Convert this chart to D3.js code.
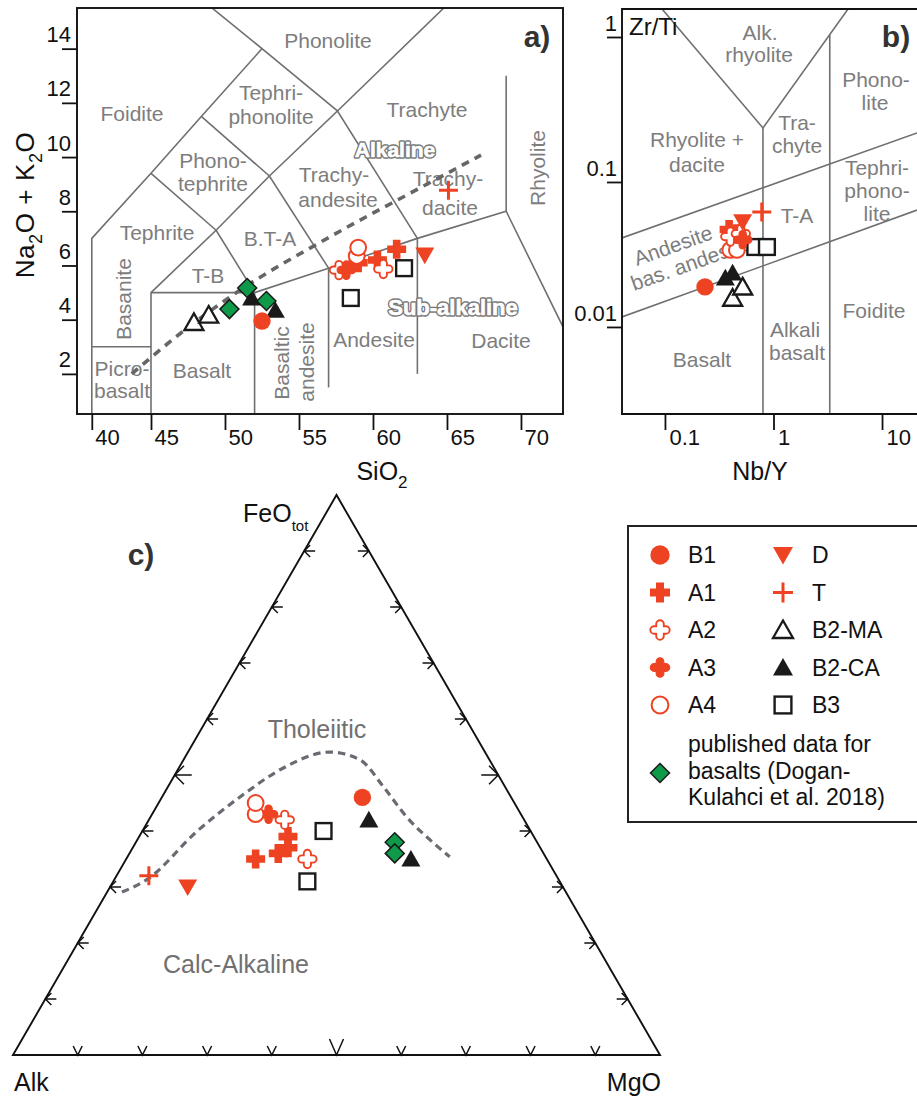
<!DOCTYPE html>
<html><head><meta charset="utf-8">
<script src="https://cdn.jsdelivr.net/npm/d3@7"></script>
<style>
body{margin:0;background:#fff}
svg{display:block}
text{font-family:"Liberation Sans",Arial,Helvetica,sans-serif}
</style></head>
<body><svg id="chart" width="917" height="1096"></svg>
<script>
// ================= DATA =================
// Panel a: TAS (SiO2, Na2O+K2O)
const tasXTicks = [41,45,50,55,60,65,70];          // first tick sits on the 41 boundary in the source
const tasXTickLabels = ["40","45","50","55","60","65","70"];
const tasYTicks = [2,4,6,8,10,12,14];
const tasB1   = [[52.5,3.95]];
const tasA1   = [[59.0,6.1],[60.3,6.2],[61.6,6.6]];
const tasA2   = [[57.7,5.83],[60.7,5.87]];
const tasA3   = [[58.2,5.83]];
const tasA4   = [[58.9,6.35],[59.0,6.66]];
const tasD    = [[63.5,6.38]];
const tasT    = [[65.1,8.78]];
const tasB2MA = [[47.9,3.9],[48.9,4.17]];
const tasB2CA = [[51.8,4.8],[53.4,4.35]];
const tasB3   = [[58.5,4.8],[62.1,5.9]];
const tasPub  = [[50.3,4.39],[51.5,5.17],[52.8,4.69]];
const tasFields = [
  [[41,0],[41,7],[45,9.4],[48.4,11.5],[52.5,14],[48,16]],
  [[41,3],[45,3]],
  [[45,0],[45,5],[49.4,7.3],[52,5]],
  [[45,5],[52,5],[57,5.9],[63,7],[69,8],[76.2,0]],
  [[52,0],[52,5]],
  [[45,9.4],[49.4,7.3],[53,9.3],[57,5.9]],
  [[48.4,11.5],[53,9.3],[57.6,11.7],[63,7]],
  [[52.5,14],[57.6,11.7],[69,17.73]],
  [[57,5.9],[57,1.5]],
  [[63,7],[63,2.0]],
  [[69,8],[69,13]]
];
const tasAlkLine = [[43.7,2.0],[47,3.5],[50.5,4.9],[57.3,7.12],[62.8,8.75],[67.3,10.07]];

// Panel b: Nb/Y vs Zr/Ti (log-log)
const wfXTicks = [0.1,1,10];
const wfYTicks = [0.01,0.1,1];
const wfB1   = [[0.234,0.0189]];
const wfA1   = [[0.39,0.047],[0.46,0.044]];
const wfA2   = [[0.40,0.042],[0.50,0.044]];
const wfA3   = [[0.52,0.040]];
const wfA4   = [[0.40,0.034],[0.46,0.034]];
const wfD    = [[0.52,0.053]];
const wfT    = [[0.78,0.062]];
const wfB2MA = [[0.42,0.0158],[0.52,0.0189]];
const wfB2CA = [[0.36,0.0218],[0.42,0.0236]];
const wfB3   = [[0.68,0.0356],[0.87,0.0356]];
const wfFields = [
  [[0.0402,0.0411],[21,0.218]],
  [[0.0402,0.01172],[21,0.064]],
  [[0.094,1.56],[0.8,0.236],[4.86,1.56]],
  [[0.8,0.236],[0.8,0.00251]],
  [[3.3,1.04],[3.3,0.00251]]
];

// Panel c: AFM ternary, rows are [Alk, FeOtot, MgO] %
const afmB1   = [[23,46,31]];
const afmA1   = [[38,39,23],[39,37,24],[41,36,23],[45,35,20]];
const afmA2   = [[37,42,21],[37,35,28]];
const afmA3   = [[39,43,18]];
const afmA4   = [[41,43,16],[40,45,15]];
const afmD    = [[58,30,12]];
const afmT    = [[63,32,5]];
const afmB2CA = [[24,42,34],[21,35,44]];
const afmB3   = [[32,40,28],[39,31,30]];
const afmPub  = [[22,38,40],[23,36,41]];
const afmBoundary = [[68.6,29.1,2.3],[63.5,31.4,5.1],[51.8,39.8,8.4],[41.0,46.6,12.4],[32.7,51.2,16.1],
  [24.0,54.1,21.9],[20.0,52.7,27.3],[18.8,47.9,33.3],[17.9,42.5,39.6],[16.1,37.9,46.0],[14.8,35.4,49.8]];
const afmTicks = [10,20,30,40,50,60,70,80,90];

// Legend
const legendLeft  = ["B1","A1","A2","A3","A4"];
const legendRight = ["D","T","B2-MA","B2-CA","B3"];
const legendPub   = ["published data for","basalts (Dogan-","Kulahci et al. 2018)"];

// ================= STYLE =================
const RED="#ee4323", LINE="#707070", GTXT="#7d7d7d", GREEN="#0f9a4a", BLK="#1a1a1a";
const symType = {B1:"dot",A1:"cross",A2:"rcrossOpen",A3:"rcross",A4:"ring",D:"triDown",T:"plus",
  "B2-MA":"triOpen","B2-CA":"tri",B3:"square",Pub:"diamond"};

const svg = d3.select("#chart");

function drawSym(g, type, cx, cy, s){
  s = s||19; const h=s/2;
  if(type==="dot"){ g.append("circle").attr("cx",cx).attr("cy",cy).attr("r",h-0.3).attr("fill",RED); }
  else if(type==="ring"){ g.append("circle").attr("cx",cx).attr("cy",cy).attr("r",h-1.6).attr("fill","#fff").attr("stroke",RED).attr("stroke-width",2); }
  else if(type==="cross"){ const w=s*0.2;
    g.append("path").attr("d",`M${cx-w},${cy-h}H${cx+w}V${cy-w}H${cx+h}V${cy+w}H${cx+w}V${cy+h}H${cx-w}V${cy+w}H${cx-h}V${cy-w}H${cx-w}Z`).attr("fill",RED); }
  else if(type==="rcross"||type==="rcrossOpen"){ const w=s*0.19, L=h-0.3, e=L-w;
    const d=`M${cx-w},${cy-e}A${w},${w} 0 0 1 ${cx+w},${cy-e}L${cx+w},${cy-w}L${cx+e},${cy-w}A${w},${w} 0 0 1 ${cx+e},${cy+w}L${cx+w},${cy+w}L${cx+w},${cy+e}A${w},${w} 0 0 1 ${cx-w},${cy+e}L${cx-w},${cy+w}L${cx-e},${cy+w}A${w},${w} 0 0 1 ${cx-e},${cy-w}L${cx-w},${cy-w}Z`;
    const p=g.append("path").attr("d",d);
    if(type==="rcross") p.attr("fill",RED).attr("stroke",RED).attr("stroke-width",1.2);
    else p.attr("fill","#fff").attr("stroke",RED).attr("stroke-width",1.9); }
  else if(type==="triDown"){ g.append("path").attr("d",`M${cx-h},${cy-h*0.8}L${cx+h},${cy-h*0.8}L${cx},${cy+h*0.95}Z`).attr("fill",RED); }
  else if(type==="plus"){ g.append("path").attr("d",`M${cx-h},${cy}H${cx+h}M${cx},${cy-h}V${cy+h}`).attr("stroke",RED).attr("stroke-width",3).attr("fill","none"); }
  else if(type==="tri"||type==="triOpen"){ const p=g.append("path").attr("d",`M${cx},${cy-h*0.95}L${cx+h},${cy+h*0.8}L${cx-h},${cy+h*0.8}Z`);
    if(type==="tri") p.attr("fill",BLK); else p.attr("fill","#fff").attr("stroke",BLK).attr("stroke-width",2.3).attr("stroke-linejoin","miter"); }
  else if(type==="square"){ const a=h-1.6; g.append("rect").attr("x",cx-a).attr("y",cy-a).attr("width",2*a).attr("height",2*a).attr("fill","#fff").attr("stroke",BLK).attr("stroke-width",2.4); }
  else if(type==="diamond"){ g.append("path").attr("d",`M${cx},${cy-h}L${cx+h},${cy}L${cx},${cy+h}L${cx-h},${cy}Z`).attr("fill",GREEN).attr("stroke",BLK).attr("stroke-width",1.5); }
}

function txt(g,x,y,s,o){ o=o||{};
  const t=g.append("text").attr("x",x).attr("y",y).text(s)
    .attr("font-size",o.size||21).attr("fill",o.fill||GTXT).attr("text-anchor",o.anchor||"middle");
  if(o.weight) t.attr("font-weight",o.weight);
  if(o.rot!==undefined) t.attr("transform",`rotate(${o.rot},${x},${y})`);
  return t; }

function outlined(g,x,y,s,size){
  txt(g,x,y,s,{size:size,weight:"bold",fill:"#777"}).attr("stroke","#777").attr("stroke-width",3.4).attr("stroke-linejoin","round");
  txt(g,x,y,s,{size:size,weight:"bold",fill:"#fff"}).attr("stroke","#fff").attr("stroke-width",0.6);
}

function styleAxis(sel){
  sel.select(".domain").remove();
  sel.selectAll(".tick line").attr("stroke","#111").attr("stroke-width",1.8);
  sel.selectAll(".tick text").attr("fill","#111").attr("font-size",22).attr("font-family",'"Liberation Sans",Arial,sans-serif');
}

// ================= PANEL A =================
const xA = d3.scaleLinear().domain([40,72.84]).range([77,563]);
const yA = d3.scaleLinear().domain([0.52,15.5]).range([414,8]);
const gA = svg.append("g");
svg.append("clipPath").attr("id","clipA").append("rect").attr("x",77).attr("y",8).attr("width",486).attr("height",406);
const lineA = d3.line().x(d=>xA(d[0])).y(d=>yA(d[1]));
gA.append("g").attr("clip-path","url(#clipA)").selectAll("path").data(tasFields).join("path")
  .attr("d",lineA).attr("fill","none").attr("stroke",LINE).attr("stroke-width",1.6);

[["Phonolite",328,48],["Foidite",132,121],["Tephri-",271,100],["phonolite",271,124],["Trachyte",427,117],
 ["Phono-",213,168],["tephrite",213,191],["Trachy-",334,182],["andesite",338,207],["Trachy-",448,186],["dacite",450,215],
 ["Tephrite",157,240],["B.T-A",270,246],["T-B",208,283],["Andesite",374,347],["Dacite",501,348],
 ["Picro-",122,376],["basalt",122,398],["Basalt",202,378]].forEach(d=>txt(gA,d[1],d[2],d[0]));
txt(gA,545,168,"Rhyolite",{rot:-90});
txt(gA,131,299,"Basanite",{rot:-90});
txt(gA,289,363,"Basaltic",{rot:-90});
txt(gA,314,362,"andesite",{rot:-90});

gA.append("path").datum(tasAlkLine).attr("d",d3.line().x(d=>xA(d[0])).y(d=>yA(d[1])).curve(d3.curveMonotoneX)).attr("fill","none")
  .attr("stroke","#666").attr("stroke-width",3.6).attr("stroke-dasharray","8,6.5");
outlined(gA,395,157,"Alkaline",21);
outlined(gA,453,315,"Sub-alkaline",22);

const tasOrder=[["B2-MA",tasB2MA],["B2-CA",tasB2CA],["Pub",tasPub],["B1",tasB1],["B3",tasB3],["A1",tasA1],["A2",tasA2],["A3",tasA3],["A4",tasA4],["D",tasD],["T",tasT]];
tasOrder.forEach(([k,arr])=>arr.forEach(p=>drawSym(gA,symType[k],xA(p[0]),yA(p[1]),k==="B1"?18:19)));

gA.append("rect").attr("x",77).attr("y",8).attr("width",486).attr("height",406).attr("fill","none").attr("stroke","#111").attr("stroke-width",1.9);
const axXA = gA.append("g").attr("transform","translate(0,414)")
  .call(d3.axisBottom(xA).tickValues(tasXTicks).tickSize(16).tickFormat((d,i)=>tasXTickLabels[i]));
styleAxis(axXA); axXA.selectAll(".tick text").attr("text-anchor","start").attr("x",3).attr("y",31).attr("dy",0);
const axYA = gA.append("g").attr("transform","translate(77,0)")
  .call(d3.axisLeft(yA).tickValues(tasYTicks).tickSize(15));
styleAxis(axYA); axYA.selectAll(".tick text").attr("text-anchor","end").attr("x",-6).attr("y",-7).attr("dy",0);
txt(gA,537,47,"a)",{size:30,weight:"bold",fill:"#333"});

const tA = gA.append("text").attr("x",382).attr("y",480).attr("text-anchor","middle").attr("font-size",25).attr("fill","#111");
tA.append("tspan").text("SiO"); tA.append("tspan").text("2").attr("font-size",17).attr("dy",8);
const tY = gA.append("text").attr("transform","translate(34,205) rotate(-90)").attr("text-anchor","middle").attr("font-size",26).attr("fill","#111").attr("letter-spacing",0.6);
tY.append("tspan").text("Na"); tY.append("tspan").text("2").attr("font-size",18).attr("dy",8);
tY.append("tspan").text("O + K").attr("dy",-8); tY.append("tspan").text("2").attr("font-size",18).attr("dy",8);
tY.append("tspan").text("O").attr("dy",-8);

// ================= PANEL B =================
const xB = d3.scaleLog().domain([0.0402,21]).range([622,917]);
const yB = d3.scaleLog().domain([0.00251,1.56]).range([414,9]);
const gB = svg.append("g");
svg.append("clipPath").attr("id","clipB").append("rect").attr("x",622).attr("y",9).attr("width",300).attr("height",405);
const lineB = d3.line().x(d=>xB(d[0])).y(d=>yB(d[1]));
gB.append("g").attr("clip-path","url(#clipB)").selectAll("path").data(wfFields).join("path")
  .attr("d",lineB).attr("fill","none").attr("stroke",LINE).attr("stroke-width",1.6);
[["Alk.",760,40],["rhyolite",759,62],["Phono-",876,87],["lite",875,110],["Rhyolite +",697,147],["dacite",697,172],
 ["Tra-",797,130],["chyte",797,153],["Tephri-",877,175],["phono-",877,198],["lite",877,221],["T-A",797,223],
 ["Basalt",702,367],["Alkali",795,337],["basalt",797,360],["Foidite",874,318]].forEach(d=>txt(gB,d[1],d[2],d[0]));
txt(gB,637,266,"Andesite",{anchor:"start",rot:-19.6});
txt(gB,634,291,"bas. andesite",{anchor:"start",rot:-19.6});
const wfOrder=[["B1",wfB1],["B2-CA",wfB2CA],["B2-MA",wfB2MA],["B3",wfB3],["A4",wfA4],["A1",wfA1],["A2",wfA2],["A3",wfA3],["D",wfD],["T",wfT]];
wfOrder.forEach(([k,arr])=>arr.forEach(p=>drawSym(gB,symType[k],xB(p[0]),yB(p[1]),k==="B1"?18:19)));
gB.append("path").attr("d","M920,9H622V414H920").attr("fill","none").attr("stroke","#111").attr("stroke-width",1.9);
const axXB = gB.append("g").attr("transform","translate(0,414)")
  .call(d3.axisBottom(xB).tickValues(wfXTicks).tickSize(16).tickFormat(d=>String(d)));
styleAxis(axXB); axXB.selectAll(".tick text").attr("text-anchor","start").attr("x",4).attr("y",31).attr("dy",0);
const axYB = gB.append("g").attr("transform","translate(622,0)")
  .call(d3.axisLeft(yB).tickValues(wfYTicks).tickSize(15).tickFormat(d=>String(d)));
styleAxis(axYB); axYB.selectAll(".tick text").attr("text-anchor","end").attr("x",-5).attr("y",-6).attr("dy",0);
txt(gB,629,35,"Zr/Ti",{anchor:"start",size:24,fill:"#111"});
txt(gB,896,47,"b)",{size:30,weight:"bold",fill:"#333"});
txt(gB,760,480,"Nb/Y",{size:25,fill:"#111"});

// ================= PANEL C =================
const tx = d3.scaleLinear().domain([0,100]).range([13,660]);
const ty = d3.scaleLinear().domain([0,100]).range([1055,495]);
function proj(r){ const s=r[0]+r[1]+r[2], f=100*r[1]/s, m=100*r[2]/s; return [tx(m+f/2), ty(f)]; }
const gC = svg.append("g");
const vA=proj([100,0,0]), vF=proj([0,100,0]), vM=proj([0,0,100]);
gC.append("path").attr("d",`M${vA}L${vF}L${vM}Z`).attr("fill","none").attr("stroke","#111").attr("stroke-width",1.9).attr("stroke-linejoin","miter");
const tk = gC.append("g").attr("stroke","#111").attr("stroke-width",1.5).attr("fill","none");
afmTicks.forEach(v=>{
  const big = v===50;
  const sh = big?17:11, ar = big?13:8.5, c=Math.SQRT1_2;
  let p = proj([100-v, v, 0]);
  tk.append("path").attr("d",`M${p[0]+sh},${p[1]}L${p[0]},${p[1]}M${p[0]+ar*c},${p[1]-ar*c}L${p[0]},${p[1]}L${p[0]+ar*c},${p[1]+ar*c}`);
  p = proj([0, v, 100-v]);
  tk.append("path").attr("d",`M${p[0]-sh},${p[1]}L${p[0]},${p[1]}M${p[0]-ar*c},${p[1]-ar*c}L${p[0]},${p[1]}L${p[0]-ar*c},${p[1]+ar*c}`);
  p = proj([100-v, 0, v]);
  const bh = big?16:9, bw = big?7:4.5;
  tk.append("path").attr("d",`M${p[0]-bw},${p[1]-bh}L${p[0]},${p[1]}L${p[0]+bw},${p[1]-bh}`);
});
gC.append("path").datum(afmBoundary).attr("d",d3.line().x(d=>proj(d)[0]).y(d=>proj(d)[1]).curve(d3.curveMonotoneX))
  .attr("fill","none").attr("stroke","#6a6a72").attr("stroke-width",3.2).attr("stroke-dasharray","7.5,5");
txt(gC,317,738,"Tholeiitic",{size:25,fill:"#707070"});
txt(gC,236,973,"Calc-Alkaline",{size:25,fill:"#707070"});
const afmOrder=[["B2-CA",afmB2CA],["Pub",afmPub],["B1",afmB1],["B3",afmB3],["A1",afmA1],["A2",afmA2],["A3",afmA3],["A4",afmA4],["D",afmD],["T",afmT]];
afmOrder.forEach(([k,arr])=>arr.forEach(p=>{const q=proj(p); drawSym(gC,symType[k],q[0],q[1],k==="B1"?18:19);}));
txt(gC,14,1091,"Alk",{anchor:"start",size:25,fill:"#111"});
txt(gC,661,1091,"MgO",{anchor:"end",size:25,fill:"#111"});
const tF = gC.append("text").attr("x",243).attr("y",522).attr("font-size",25).attr("fill","#111");
tF.append("tspan").text("FeO"); tF.append("tspan").text("tot").attr("font-size",15).attr("dy",9);
txt(gC,141,565,"c)",{size:30,weight:"bold",fill:"#333"});

// ================= LEGEND =================
const gL = svg.append("g");
gL.append("rect").attr("x",628).attr("y",526).attr("width",300).attr("height",296).attr("fill","#fff").attr("stroke","#222").attr("stroke-width",2);
legendLeft.forEach((k,i)=>{ const y=555+i*37.5; drawSym(gL,symType[k],660,y,20); txt(gL,688,y+8,k,{anchor:"start",size:23,fill:"#111"}); });
legendRight.forEach((k,i)=>{ const y=555+i*37.5; drawSym(gL,symType[k],783,y,20); txt(gL,812,y+8,k,{anchor:"start",size:23,fill:"#111"}); });
drawSym(gL,"diamond",660,773,19);
legendPub.forEach((s,i)=>txt(gL,688,752+i*26.5,s,{anchor:"start",size:23,fill:"#111"}));
</script></body></html>
